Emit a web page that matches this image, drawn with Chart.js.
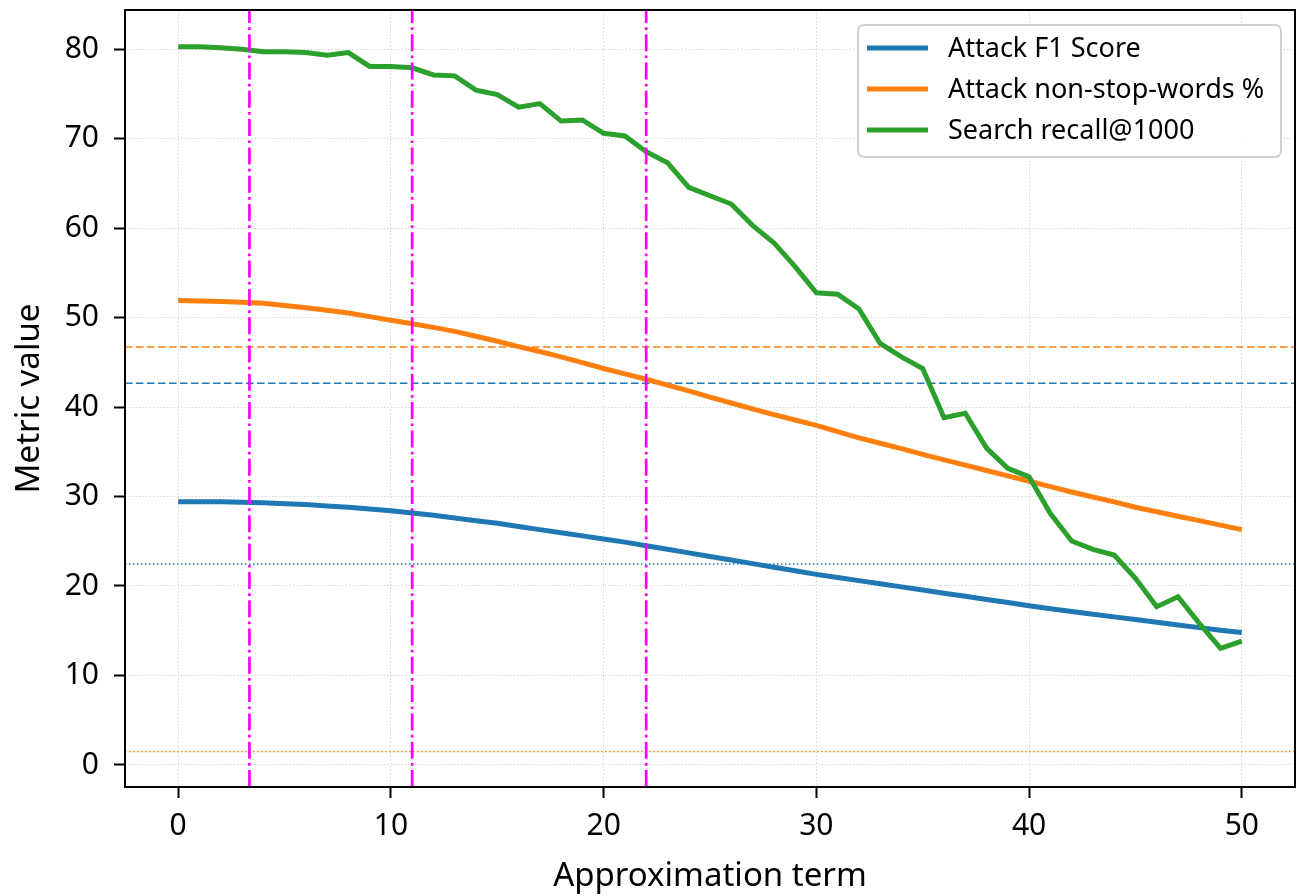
<!DOCTYPE html>
<html>
<head>
<meta charset="utf-8">
<script src="https://cdn.jsdelivr.net/npm/chart.js@4.4.0/dist/chart.umd.min.js"></script>
<style>
html,body{margin:0;padding:0;background:#fff;}
#wrap{width:1299px;height:896px;}
</style>
</head>
<body>
<div id="wrap"><canvas id="c" width="1299" height="896"></canvas></div>
<script>
// ---------- data ----------
const terms = [0,1,2,3,4,5,6,7,8,9,10,11,12,13,14,15,16,17,18,19,20,21,22,23,24,25,26,27,28,29,30,31,32,33,34,35,36,37,38,39,40,41,42,43,44,45,46,47,48,49,50];
const attackF1 = [29.4,29.4,29.4,29.35,29.3,29.2,29.1,28.95,28.8,28.6,28.4,28.15,27.9,27.6,27.3,27.0,26.65,26.3,25.95,25.6,25.25,24.9,24.5,24.1,23.7,23.3,22.9,22.5,22.1,21.7,21.3,20.95,20.6,20.25,19.9,19.55,19.2,18.85,18.5,18.15,17.8,17.45,17.15,16.85,16.55,16.25,15.95,15.65,15.35,15.05,14.8];
const attackNonStop = [51.9,51.85,51.8,51.7,51.6,51.35,51.1,50.8,50.5,50.1,49.7,49.3,48.9,48.45,47.9,47.35,46.75,46.2,45.6,44.95,44.3,43.7,43.1,42.45,41.8,41.1,40.45,39.8,39.15,38.55,37.95,37.25,36.55,35.95,35.35,34.7,34.1,33.5,32.9,32.3,31.7,31.1,30.5,29.95,29.4,28.8,28.3,27.8,27.3,26.8,26.3];
const searchRecall = [80.26,80.26,80.15,79.97,79.7,79.7,79.6,79.3,79.6,78.06,78.06,77.9,77.1,77.0,75.4,74.9,73.5,73.9,71.95,72.07,70.58,70.28,68.53,67.3,64.55,63.6,62.68,60.3,58.36,55.68,52.77,52.6,50.95,47.1,45.6,44.3,38.8,39.3,35.4,33.15,32.2,28.1,25.03,24.1,23.46,20.86,17.69,18.8,15.83,13.04,13.85];
const seriesLabels = ['Attack F1 Score', 'Attack non-stop-words %', 'Search recall@1000'];
const hlineValues = [46.7, 42.65, 22.45, 1.5];
const vlineValues = [3.35, 11, 22];
const xLimits = [-2.5, 52.5];
const yLimits = [-2.46, 84.36];
const xTickValues = [0, 10, 20, 30, 40, 50];
const yTickValues = [0, 10, 20, 30, 40, 50, 60, 70, 80];
const xTitle = 'Approximation term';
const yTitle = 'Metric value';

// ---------- styles ----------
const BLUE = '#1f77b4', ORANGE = '#ff7f0e', GREEN = '#2ca02c', MAGENTA = '#ff00ff';
const seriesColors = [BLUE, ORANGE, GREEN];
const hlineStyles = [
  {color: ORANGE, dash: [7.5, 3.5]},
  {color: BLUE, dash: [7.5, 3.5]},
  {color: BLUE, dash: [1.5, 2.5]},
  {color: ORANGE, dash: [1.5, 2.5]}
];
const FONT = "'Noto Sans', 'DejaVu Sans', sans-serif";
Chart.defaults.font.family = FONT;
Chart.defaults.color = '#000';

const seriesData = [attackF1, attackNonStop, searchRecall];
const datasets = [];
seriesData.forEach((vals, i) => {
  datasets.push({
    label: seriesLabels[i],
    data: terms.map((t, j) => ({x: t, y: vals[j]})),
    borderColor: seriesColors[i],
    borderWidth: 5,
    pointRadius: 0,
    fill: false,
    tension: 0,
    order: 3 - i,
    isSeries: true
  });
});
hlineValues.forEach((v, i) => {
  datasets.push({
    label: 'h' + i,
    data: [{x: xLimits[0], y: v}, {x: xLimits[1], y: v}],
    borderColor: hlineStyles[i].color,
    borderWidth: 1.5,
    borderDash: hlineStyles[i].dash,
    pointRadius: 0,
    fill: false,
    order: 5
  });
});
vlineValues.forEach((v, i) => {
  datasets.push({
    label: 'v' + i,
    data: [{x: v, y: yLimits[0]}, {x: v, y: yLimits[1]}],
    borderColor: MAGENTA,
    borderWidth: 2.7,
    borderDash: [17, 4.3, 2.7, 4.3],
    pointRadius: 0,
    fill: false,
    order: 0
  });
});

const framePlugin = {
  id: 'frameLegend',
  afterDatasetsDraw(chart) {
    const {ctx, chartArea: a} = chart;
    ctx.save();
    ctx.strokeStyle = '#000';
    ctx.lineWidth = 2;
    ctx.strokeRect(a.left, a.top, a.right - a.left, a.bottom - a.top);
    ctx.restore();
  },
  afterDraw(chart) {
    const {ctx, chartArea: a} = chart;
    const boxW = 423, boxH = 132;
    const bx = a.right - 14 - boxW, by = a.top + 15;
    ctx.save();
    ctx.beginPath();
    ctx.roundRect(bx, by, boxW, boxH, 6);
    ctx.fillStyle = 'rgba(255,255,255,0.85)';
    ctx.fill();
    ctx.strokeStyle = '#d0d0d0';
    ctx.lineWidth = 2;
    ctx.stroke();
    const series = chart.data.datasets.filter(d => d.isSeries);
    series.forEach((d, i) => {
      const y = by + 23 + i * 41;
      ctx.beginPath();
      ctx.strokeStyle = d.borderColor;
      ctx.lineWidth = 5;
      ctx.moveTo(bx + 9, y);
      ctx.lineTo(bx + 70, y);
      ctx.stroke();
      ctx.fillStyle = '#000';
      ctx.font = '27px ' + FONT;
      ctx.textBaseline = 'middle';
      ctx.textAlign = 'left';
      ctx.fillText(d.label, bx + 90, y + 1);
    });
    ctx.restore();
  }
};

const gridCommon = {
  color: '#d6d6d6',
  lineWidth: 1,
  tickColor: '#000',
  tickLength: 11,
  tickWidth: 2,
  tickBorderDash: []
};

new Chart(document.getElementById('c'), {
  type: 'line',
  data: {datasets},
  options: {
    responsive: false,
    animation: false,
    devicePixelRatio: 1,
    layout: {padding: {left: 0, right: 4, top: 10, bottom: 0}},
    plugins: {legend: {display: false}, tooltip: {enabled: false}},
    scales: {
      x: {
        type: 'linear',
        min: xLimits[0],
        max: xLimits[1],
        grid: gridCommon,
        border: {display: false, dash: [1.5, 2]},
        ticks: {font: {size: 30}, color: '#000', padding: 10, includeBounds: false, maxRotation: 0},
        afterBuildTicks: s => { s.ticks = xTickValues.map(v => ({value: v})); },
        afterFit: s => { s.height = 109; s.paddingLeft = 0; s.paddingRight = 0; },
        title: {display: true, text: xTitle, font: {size: 33}, color: '#000', padding: {top: 0, bottom: 0}}
      },
      y: {
        type: 'linear',
        min: yLimits[0],
        max: yLimits[1],
        grid: gridCommon,
        border: {display: false, dash: [1.5, 2]},
        ticks: {font: {size: 30}, color: '#000', padding: 15, includeBounds: false},
        afterBuildTicks: s => { s.ticks = yTickValues.map(v => ({value: v})); },
        afterFit: s => { s.width = 125; s.paddingTop = 0; s.paddingBottom = 0; },
        title: {display: true, text: yTitle, font: {size: 33}, color: '#000', padding: {top: 10, bottom: 0}}
      }
    }
  },
  plugins: [framePlugin]
});
</script>
</body>
</html>
